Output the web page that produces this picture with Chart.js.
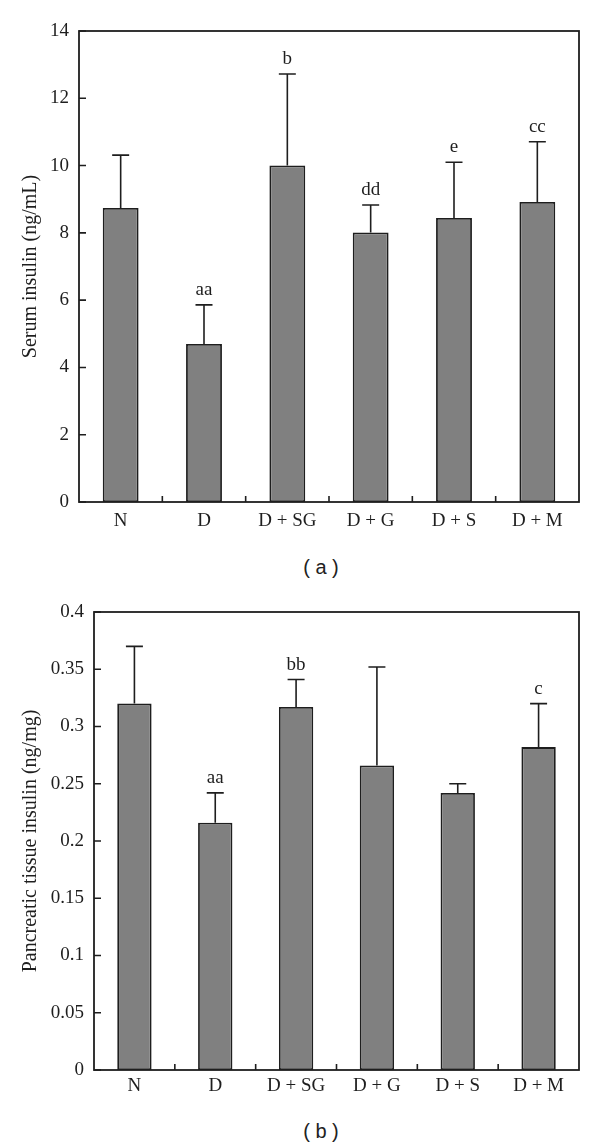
<!DOCTYPE html>
<html><head><meta charset="utf-8">
<script src="https://cdn.jsdelivr.net/npm/chart.js@4"></script>
<style>
html,body{margin:0;padding:0;background:#fff;}
body{width:600px;height:1148px;position:relative;overflow:hidden;}
.wrap{position:absolute;left:0;width:600px;}
.cap{position:absolute;font-family:"Liberation Sans",Arial,sans-serif;font-size:20px;color:#222;width:100px;text-align:center;line-height:24px;white-space:pre;}
</style></head><body>
<div class="wrap" style="top:0;height:545px"><canvas id="cA" width="600" height="545"></canvas></div>
<div class="cap" style="left:271px;top:555px">( a )</div>
<div class="wrap" style="top:580px;height:530px"><canvas id="cB" width="600" height="530"></canvas></div>
<div class="cap" style="left:271px;top:1119px">( b )</div>
<script>
const categories = ['N', 'D', 'D + SG', 'D + G', 'D + S', 'D + M'];

const serumMean = [8.74, 4.70, 10.00, 8.01, 8.44, 8.92];
const serumSD = [1.57, 1.16, 2.72, 0.82, 1.66, 1.79];
const serumLetters = ['', 'aa', 'b', 'dd', 'e', 'cc'];
const serumTicks = ['0', '2', '4', '6', '8', '10', '12', '14'];

const pancMean = [0.320, 0.216, 0.317, 0.266, 0.242, 0.282];
const pancSD = [0.050, 0.026, 0.024, 0.086, 0.008, 0.038];
const pancLetters = ['', 'aa', 'bb', '', '', 'c'];
const pancTicks = ['0', '0.05', '0.1', '0.15', '0.2', '0.25', '0.3', '0.35', '0.4'];

const INK = '#1e1e1e';
const SERIF = '"Liberation Serif", "Times New Roman", serif';

function decor(sd, letters) {
  return {
    id: 'decor',
    afterDatasetsDraw(chart) {
      const ctx = chart.ctx, a = chart.chartArea;
      const x = chart.scales.x, y = chart.scales.y;
      const vals = chart.data.datasets[0].data;
      ctx.save();
      ctx.strokeStyle = INK;
      ctx.fillStyle = INK;
      ctx.lineWidth = 1.6;
      ctx.font = '19px ' + SERIF;
      ctx.textAlign = 'center';
      ctx.textBaseline = 'alphabetic';
      chart.getDatasetMeta(0).data.forEach((bar, i) => {
        const yBar = y.getPixelForValue(vals[i]);
        const yTop = y.getPixelForValue(vals[i] + sd[i]);
        ctx.beginPath();
        ctx.moveTo(bar.x, yBar); ctx.lineTo(bar.x, yTop);
        ctx.moveTo(bar.x - 8.5, yTop); ctx.lineTo(bar.x + 8.5, yTop);
        ctx.stroke();
        if (letters[i]) ctx.fillText(letters[i], bar.x, yTop - 10);
      });
      ctx.lineWidth = 1.8;
      ctx.strokeRect(a.left, a.top, a.right - a.left, a.bottom - a.top);
      ctx.lineWidth = 1.6;
      ctx.beginPath();
      y.ticks.forEach(t => {
        const py = y.getPixelForValue(t.value);
        ctx.moveTo(a.left, py); ctx.lineTo(a.left + 7, py);
      });
      for (let i = 0; i < categories.length - 1; i++) {
        const px = (x.getPixelForValue(i) + x.getPixelForValue(i + 1)) / 2;
        ctx.moveTo(px, a.bottom); ctx.lineTo(px, a.bottom - 6);
      }
      ctx.stroke();
      ctx.restore();
    }
  };
}

function makeChart(id, mean, sd, letters, tickLabels, yMax, step, title, cfg) {
  return new Chart(document.getElementById(id), {
    type: 'bar',
    data: {
      labels: categories,
      datasets: [{
        data: mean,
        backgroundColor: '#808080',
        borderColor: INK,
        borderWidth: 1.8,
        borderSkipped: false,
        barPercentage: cfg.barPct,
        categoryPercentage: 1
      }]
    },
    options: {
      responsive: false,
      animation: false,
      layout: { padding: { top: cfg.padTop, right: 21, left: 0, bottom: 0 } },
      plugins: { legend: { display: false }, tooltip: { enabled: false } },
      scales: {
        x: {
          grid: { display: false, drawTicks: false },
          border: { display: false },
          ticks: { color: INK, font: { family: SERIF, size: 19 }, padding: cfg.xPad, maxRotation: 0, autoSkip: false },
          afterFit: s => { s.height = cfg.xHeight; }
        },
        y: {
          min: 0, max: yMax,
          grid: { display: false, drawTicks: false },
          border: { display: false },
          ticks: {
            stepSize: step, color: INK, font: { family: SERIF, size: 19 }, padding: 10,
            callback: (v) => tickLabels[Math.round(v / step)]
          },
          title: { display: true, text: title, color: INK, font: { family: SERIF, size: 20 }, padding: { top: 19, bottom: 0 } },
          afterFit: s => { s.width = cfg.yWidth; }
        }
      }
    },
    plugins: [decor(sd, letters)]
  });
}

makeChart('cA', serumMean, serumSD, serumLetters, serumTicks, 14, 2, 'Serum insulin (ng/mL)',
  { barPct: 0.43, padTop: 31, xHeight: 43, yWidth: 79, xPad: 8 });
makeChart('cB', pancMean, pancSD, pancLetters, pancTicks, 0.4, 0.05, 'Pancreatic tissue insulin (ng/mg)',
  { barPct: 0.425, padTop: 32, xHeight: 40, yWidth: 94, xPad: 5 });
</script>
</body></html>
